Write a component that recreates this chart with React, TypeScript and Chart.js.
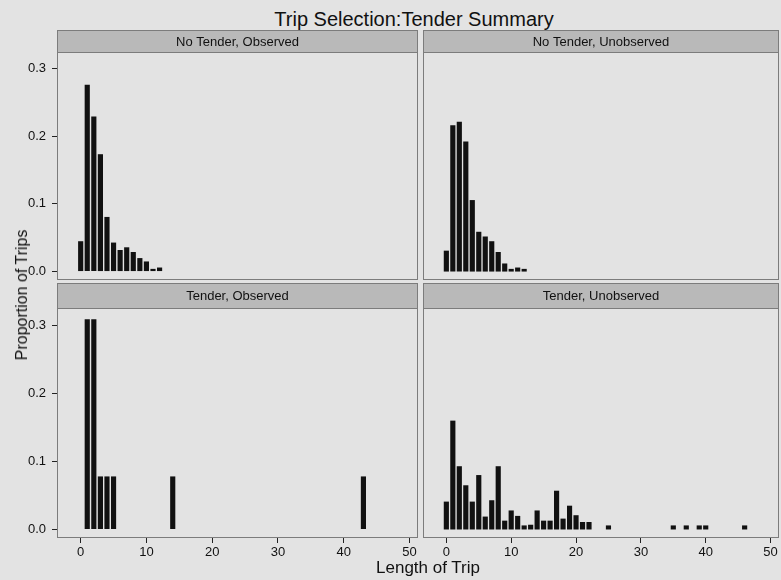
import React, { useEffect, useRef } from "react";
import { Chart, registerables } from "chart.js";

Chart.register(...registerables);
Chart.defaults.font.family = "'Liberation Sans', Arial, sans-serif";
Chart.defaults.color = "#111";

// ---------- data ----------
const chartTitle = "Trip Selection:Tender Summary";
const xAxisTitle = "Length of Trip";
const yAxisTitle = "Proportion of Trips";
const xTicks = [0, 10, 20, 30, 40, 50];
const yTicks = [0, 0.1, 0.2, 0.3];

const panelTitles = [
  "No Tender, Observed",
  "No Tender, Unobserved",
  "Tender, Observed",
  "Tender, Unobserved",
];

const noTenderObservedLengths = [0, 1, 2, 3, 4, 5, 6, 7, 8, 9, 10, 11, 12];
const noTenderObservedProps = [0.044, 0.276, 0.229, 0.173, 0.08, 0.042, 0.031, 0.035, 0.028, 0.019, 0.014, 0.003, 0.005];

const noTenderUnobservedLengths = [0, 1, 2, 3, 4, 5, 6, 7, 8, 9, 10, 11, 12];
const noTenderUnobservedProps = [0.03, 0.216, 0.221, 0.192, 0.105, 0.058, 0.051, 0.044, 0.028, 0.011, 0.003, 0.005, 0.003];

const tenderObservedLengths = [1, 2, 3, 4, 5, 14, 43];
const tenderObservedProps = [0.308, 0.308, 0.077, 0.077, 0.077, 0.077, 0.077];

const tenderUnobservedLengths = [0, 1, 2, 3, 4, 5, 6, 7, 8, 9, 10, 11, 12, 13, 14, 15, 16, 17, 18, 19, 20, 21, 22, 25, 35, 37, 39, 40, 46];
const tenderUnobservedProps = [0.04, 0.159, 0.092, 0.064, 0.04, 0.079, 0.018, 0.042, 0.092, 0.012, 0.027, 0.019, 0.005, 0.006, 0.027, 0.012, 0.012, 0.056, 0.015, 0.034, 0.02, 0.01, 0.01, 0.005, 0.005, 0.005, 0.005, 0.005, 0.005];

// ---------- styling ----------
const X_MIN = -3.6;
const X_MAX = 51.3;
const Y_MIN = -0.013;
const Y_MAX = 0.325;
const PAGE_BG = "#e3e3e3";
const STRIP_BG = "#b9b9b9";
const BORDER = "#7c7c7c";
const BAR = "#111111";

const panelPlugin = {
  id: "panelStrip",
  beforeDraw(chart: any, _args: any, opts: any) {
    const { ctx, chartArea } = chart;
    const { left, right, top } = chartArea;
    const h = opts.h;
    ctx.save();
    ctx.fillStyle = STRIP_BG;
    ctx.fillRect(left, top - h, right - left, h);
    ctx.strokeStyle = BORDER;
    ctx.lineWidth = 1;
    ctx.strokeRect(left + 0.5, top - h + 0.5, right - left - 1, h);
    ctx.fillStyle = "#111";
    ctx.font = "13px 'Liberation Sans', Arial, sans-serif";
    ctx.textAlign = "center";
    ctx.textBaseline = "middle";
    ctx.fillText(opts.text, (left + right) / 2, top - h / 2 + 1);
    ctx.restore();
  },
  afterDraw(chart: any) {
    const { ctx, chartArea } = chart;
    const { left, right, top, bottom } = chartArea;
    ctx.save();
    ctx.strokeStyle = BORDER;
    ctx.lineWidth = 1;
    ctx.strokeRect(left + 0.5, top + 0.5, right - left - 1, bottom - top - 1);
    ctx.restore();
  },
};

const zeroPad = (s: any) => {
  s.paddingTop = 0;
  s.paddingBottom = 0;
  s.paddingLeft = 0;
  s.paddingRight = 0;
};

type PanelProps = {
  left: number;
  top: number;
  width: number;
  height: number;
  pad: { left: number; right: number; top: number; bottom: number };
  title: string;
  lengths: number[];
  props: number[];
  showX: boolean;
  showY: boolean;
};

function Panel(p: PanelProps) {
  const ref = useRef<HTMLCanvasElement>(null);
  useEffect(() => {
    const chart = new Chart(ref.current!, {
      type: "bar",
      data: {
        datasets: [
          {
            data: p.lengths.map((x, i) => ({ x, y: p.props[i] })),
            backgroundColor: BAR,
            borderWidth: 0,
            barThickness: 4.5,
          } as any,
        ],
      },
      options: {
        animation: false,
        responsive: false,
        maintainAspectRatio: false,
        layout: { padding: p.pad },
        plugins: {
          legend: { display: false },
          tooltip: { enabled: false },
          panelStrip: { text: p.title, h: p.pad.top },
        } as any,
        scales: {
          x: {
            type: "linear",
            min: X_MIN,
            max: X_MAX,
            offset: false,
            display: p.showX,
            afterBuildTicks: (s: any) => {
              s.ticks = xTicks.map((v) => ({ value: v }));
            },
            afterFit: (s: any) => {
              s.height = p.showX ? 25 : 0;
              zeroPad(s);
            },
            grid: {
              offset: false,
              drawOnChartArea: false,
              drawTicks: true,
              tickLength: 5,
              tickColor: "#222",
            },
            border: { display: false },
            ticks: {
              padding: 2,
              font: { size: 13 },
              color: "#111",
              maxRotation: 0,
              autoSkip: false,
              callback: (v: any) => String(v),
            },
          },
          y: {
            type: "linear",
            min: Y_MIN,
            max: Y_MAX,
            display: p.showY,
            afterBuildTicks: (s: any) => {
              s.ticks = yTicks.map((v) => ({ value: v }));
            },
            afterFit: (s: any) => {
              s.width = p.showY ? 57 : 0;
              zeroPad(s);
            },
            grid: {
              drawOnChartArea: false,
              drawTicks: true,
              tickLength: 5,
              tickColor: "#222",
            },
            border: { display: false },
            ticks: {
              padding: 6,
              font: { size: 13 },
              color: "#111",
              autoSkip: false,
              callback: (v: any) => Number(v).toFixed(1),
            },
          },
        },
      },
      plugins: [panelPlugin],
    } as any);
    return () => chart.destroy();
  }, []);
  return (
    <canvas
      ref={ref}
      width={p.width}
      height={p.height}
      style={{ position: "absolute", left: p.left, top: p.top, width: p.width, height: p.height }}
    />
  );
}

export default function App() {
  return (
    <div
      style={{
        position: "absolute",
        left: 0,
        top: 0,
        width: 781,
        height: 580,
        background: PAGE_BG,
        overflow: "hidden",
        fontFamily: "'Liberation Sans', Arial, sans-serif",
        color: "#111",
      }}
    >
      <div
        style={{
          position: "absolute",
          left: 414,
          top: 8,
          transform: "translateX(-50%)",
          fontSize: 20,
          lineHeight: "22px",
          whiteSpace: "nowrap",
        }}
      >
        {chartTitle}
      </div>
      <Panel
        left={0}
        top={30}
        width={420}
        height={252}
        pad={{ left: 0, right: 2, top: 22, bottom: 2 }}
        title={panelTitles[0]}
        lengths={noTenderObservedLengths}
        props={noTenderObservedProps}
        showX={false}
        showY={true}
      />
      <Panel
        left={420}
        top={30}
        width={361}
        height={252}
        pad={{ left: 3, right: 2, top: 22, bottom: 2 }}
        title={panelTitles[1]}
        lengths={noTenderUnobservedLengths}
        props={noTenderUnobservedProps}
        showX={false}
        showY={false}
      />
      <Panel
        left={0}
        top={283}
        width={420}
        height={297}
        pad={{ left: 0, right: 2, top: 25, bottom: 17 }}
        title={panelTitles[2]}
        lengths={tenderObservedLengths}
        props={tenderObservedProps}
        showX={true}
        showY={true}
      />
      <Panel
        left={420}
        top={283}
        width={361}
        height={297}
        pad={{ left: 3, right: 2, top: 25, bottom: 17 }}
        title={panelTitles[3]}
        lengths={tenderUnobservedLengths}
        props={tenderUnobservedProps}
        showX={true}
        showY={false}
      />
      <div
        style={{
          position: "absolute",
          left: 22,
          top: 295,
          transform: "translate(-50%, -50%) rotate(-90deg)",
          fontSize: 16,
          whiteSpace: "nowrap",
        }}
      >
        {yAxisTitle}
      </div>
      <div
        style={{
          position: "absolute",
          left: 428,
          top: 568,
          transform: "translate(-50%, -50%)",
          fontSize: 17,
          whiteSpace: "nowrap",
        }}
      >
        {xAxisTitle}
      </div>
    </div>
  );
}
